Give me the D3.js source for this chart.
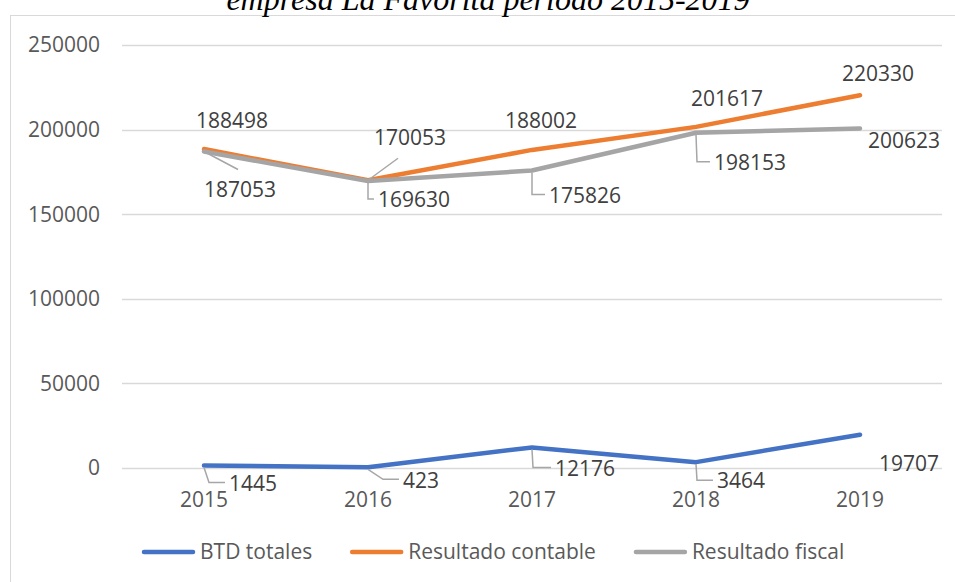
<!DOCTYPE html>
<html>
<head>
<meta charset="utf-8">
<script src="https://cdn.jsdelivr.net/npm/d3@7"></script>
<style>
    body { margin: 0; background: #fff; }
    svg text { font-family: "Open Sans", sans-serif; }
</style>
</head>
<body>
<div class="chart"></div>
<script>
let years = ["2015", "2016", "2017", "2018", "2019"];
let btdTotales = [1445, 423, 12176, 3464, 19707];
let resultadoContable = [188498, 170053, 188002, 201617, 220330];
let resultadoFiscal = [187053, 169630, 175826, 198153, 200623];
let seriesNames = ["BTD totales", "Resultado contable", "Resultado fiscal"];
let yTicks = [0, 50000, 100000, 150000, 200000, 250000];

// label placement, relative to each point (dx, dy of label centre, leader type, leader tweak)
let labelLayout = {
    "BTD totales": [[49, 18, "elbow", 5], [53, 13, "elbow", 15], [53, 21, "elbow", 1], [45, 19, "elbow", 1], [49, 29, "none", 0]],
    "Resultado contable": [[28, -28, "none", 0], [42, -43, "diag", -12], [9, -29, "none", 0], [31, -28, "none", 0], [18, -22, "none", 0]],
    "Resultado fiscal": [[36, 38, "diag", -2], [46, 19, "elbow", 0], [53, 25, "elbow", 0], [54, 30, "elbow", 1], [44, 12, "none", 0]]
};

function drawChart() {
    let width = 955,
        height = 582;

    let colors = {
        "BTD totales": "#4472C4",
        "Resultado contable": "#ED7D31",
        "Resultado fiscal": "#A5A5A5"
    };

    let data = seriesNames.map(function (name, i) {
        let vals = [btdTotales, resultadoContable, resultadoFiscal][i];
        return { name: name, values: years.map(function (y, j) { return { year: y, value: vals[j] }; }) };
    });

    let x = d3.scaleBand()
              .domain(years)
              .range([122, 942]);
    let y = d3.scaleLinear()
              .domain([0, 250000])
              .range([468, 45]);

    let svg = d3.select(".chart").append("svg")
        .attr("width", width)
        .attr("height", height);

    svg.append("rect")
        .attr("x", 10.5).attr("y", 15.5)
        .attr("width", 970).attr("height", 600)
        .attr("fill", "none")
        .attr("stroke", "#d9d9d9");

    // title is cropped at the top edge in the original picture
    svg.append("text")
        .attr("x", 488).attr("y", 10)
        .attr("text-anchor", "middle")
        .style("font-family", "'Liberation Serif', 'Times New Roman', serif")
        .style("font-style", "italic")
        .style("font-size", "32px")
        .attr("fill", "#000")
        .text("empresa La Favorita período 2015-2019");

    svg.append("g")
        .selectAll("line")
        .data(yTicks)
        .enter().append("line")
        .attr("x1", 122).attr("x2", 942)
        .attr("y1", function (d) { return Math.round(y(d)) + 0.5; })
        .attr("y2", function (d) { return Math.round(y(d)) + 0.5; })
        .attr("stroke", "#d9d9d9")
        .attr("stroke-width", 1.3);

    svg.append("g")
        .selectAll("text")
        .data(yTicks)
        .enter().append("text")
        .attr("x", 100)
        .attr("y", function (d) { return y(d); })
        .attr("dy", "0.35em")
        .attr("text-anchor", "end")
        .attr("fill", "#595959")
        .style("font-size", "21px")
        .text(function (d) { return d; });

    svg.append("g")
        .selectAll("text")
        .data(years)
        .enter().append("text")
        .attr("x", function (d) { return x(d) + x.bandwidth() / 2; })
        .attr("y", 500)
        .attr("dy", "0.35em")
        .attr("text-anchor", "middle")
        .attr("fill", "#595959")
        .style("font-size", "21px")
        .text(function (d) { return d; });

    let line = d3.line()
        .x(function (d) { return x(d.year) + x.bandwidth() / 2; })
        .y(function (d) { return y(d.value); });

    svg.append("g")
        .selectAll("path")
        .data(data)
        .enter().append("path")
        .attr("d", function (d) { return line(d.values); })
        .attr("fill", "none")
        .attr("stroke", function (d) { return colors[d.name]; })
        .attr("stroke-width", 4.5)
        .attr("stroke-linecap", "round")
        .attr("stroke-linejoin", "round");

    // data labels + leader lines
    let labels = svg.append("g");
    data.forEach(function (s) {
        s.values.forEach(function (d, i) {
            let lay = labelLayout[s.name][i];
            let px = x(d.year) + x.bandwidth() / 2,
                py = y(d.value);
            let lx = px + lay[0],
                ly = py + lay[1];
            let t = labels.append("text")
                .attr("x", lx).attr("y", ly)
                .attr("dy", "0.35em")
                .attr("text-anchor", "middle")
                .attr("fill", "#404040")
                .style("font-size", "21px")
                .text(d.value);
            let w = t.node().getComputedTextLength();
            let pts = null;
            if (lay[2] === "elbow") {
                pts = [[px, py + 2], [px + lay[3], ly - 1], [lx - w / 2 - 4, ly - 1]];
            } else if (lay[2] === "diag") {
                let ey = ly + (lay[1] > 0 ? -20 : 21);
                pts = [[px, py], [lx + lay[3], ey]];
            }
            if (pts) {
                labels.append("path")
                    .attr("d", d3.line()(pts))
                    .attr("fill", "none")
                    .attr("stroke", "#A6A6A6")
                    .attr("stroke-width", 1.5);
            }
        });
    });

    // legend
    let legend = svg.append("g");
    let lxPos = 142;
    seriesNames.forEach(function (name) {
        legend.append("line")
            .attr("x1", lxPos + 2).attr("x2", lxPos + 51)
            .attr("y1", 552).attr("y2", 552)
            .attr("stroke", colors[name])
            .attr("stroke-width", 4.5)
            .attr("stroke-linecap", "round");
        let t = legend.append("text")
            .attr("x", lxPos + 58).attr("y", 552)
            .attr("dy", "0.35em")
            .attr("fill", "#595959")
            .style("font-size", "21px")
            .text(name);
        lxPos += 58 + t.node().getComputedTextLength() + 38;
    });
}

drawChart();
</script>
</body>
</html>
